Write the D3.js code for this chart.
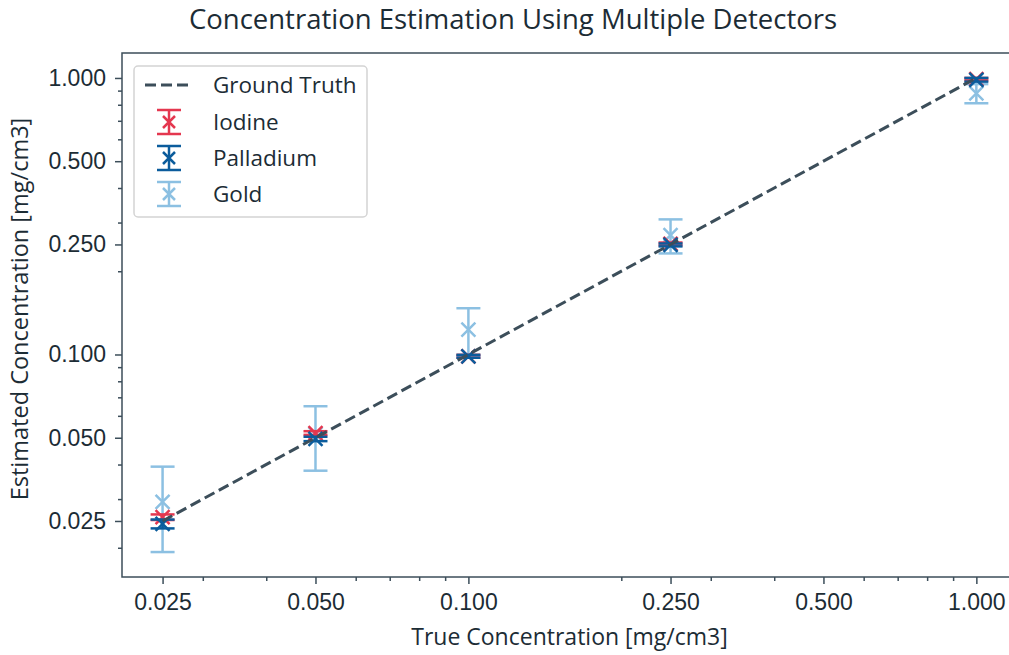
<!DOCTYPE html>
<html>
<head>
<meta charset="utf-8">
<script src="https://cdn.jsdelivr.net/npm/d3@7"></script>
<style>
  html, body { margin: 0; padding: 0; background: #ffffff; }
  svg { display: block; font-family: "Open Sans", "Noto Sans", sans-serif; }
</style>
</head>
<body>
<svg id="chart" width="1009" height="655"></svg>
<script>
// ---------- data ----------
const trueConc = [0.025, 0.05, 0.1, 0.25, 1.0];
const groundTruth = [0.025, 0.05, 0.1, 0.25, 1.0];
const iodine = [0.0258, 0.052, 0.0985, 0.251, 0.99];
const iodineErr = [0.0006, 0.0008, 0.0012, 0.003, 0.01];
const palladium = [0.0244, 0.0495, 0.0985, 0.249, 0.985];
const palladiumErr = [0.0009, 0.0009, 0.0012, 0.003, 0.015];
const gold = [0.0293, 0.0515, 0.123, 0.27, 0.88];
const goldErr = [0.0100, 0.0135, 0.024, 0.038, 0.07];
const majorTicks = [0.025, 0.05, 0.1, 0.25, 0.5, 1.0];
const minorTicksX = [0.03, 0.04, 0.06, 0.07, 0.08, 0.09, 0.2, 0.3, 0.4, 0.6, 0.7, 0.8, 0.9];
const minorTicksY = [0.02, 0.03, 0.04, 0.06, 0.07, 0.08, 0.09, 0.2, 0.3, 0.4, 0.6, 0.7, 0.8, 0.9];
const seriesNames = ["Iodine", "Palladium", "Gold"];
const titleText = "Concentration Estimation Using Multiple Detectors";
const xLabelText = "True Concentration [mg/cm3]";
const yLabelText = "Estimated Concentration [mg/cm3]";

// ---------- layout ----------
const svg = d3.select("#chart");
const plot = {left: 122, right: 1017, top: 53, bottom: 577};
const ink = "#3c4e5a";
const textColor = "#1c2c35";
const colors = {Iodine: "#e4374f", Palladium: "#0b5c9c", Gold: "#8cc0e2"};

const x = d3.scaleLog().domain([0.0208, 1.2023]).range([plot.left, plot.right]);
const y = d3.scaleLog().domain([0.01568, 1.231]).range([plot.bottom, plot.top]);
const fmt = d3.format(".3f");

// clip
svg.append("defs").append("clipPath").attr("id", "clip")
  .append("rect").attr("x", plot.left).attr("y", plot.top)
  .attr("width", plot.right - plot.left).attr("height", plot.bottom - plot.top);

// axes
const xAxis = d3.axisBottom(x).tickValues(majorTicks).tickFormat(fmt).tickSizeOuter(0).tickSize(7).tickPadding(10);
const xAxisMinor = d3.axisBottom(x).tickValues(minorTicksX).tickFormat("").tickSizeOuter(0).tickSize(4);
const yAxis = d3.axisLeft(y).tickValues(majorTicks).tickFormat(fmt).tickSizeOuter(0).tickSize(7).tickPadding(9);
const yAxisMinor = d3.axisLeft(y).tickValues(minorTicksY).tickFormat("").tickSizeOuter(0).tickSize(4);

function styleAxis(g, fs) {
  g.select(".domain").remove();
  g.selectAll(".tick line").attr("stroke", ink).attr("stroke-width", 1.5);
  g.selectAll(".tick text").attr("fill", textColor).style("font-size", fs + "px");
}
svg.append("g").attr("transform", `translate(0,${plot.bottom})`).call(xAxisMinor).call(g => styleAxis(g, 23));
svg.append("g").attr("transform", `translate(0,${plot.bottom})`).call(xAxis).call(g => styleAxis(g, 23));
svg.append("g").attr("transform", `translate(${plot.left},0)`).call(yAxisMinor).call(g => styleAxis(g, 23));
svg.append("g").attr("transform", `translate(${plot.left},0)`).call(yAxis).call(g => styleAxis(g, 23));

// data layer
const layer = svg.append("g").attr("clip-path", "url(#clip)");

function drawX(g, cx, cy, s, color, sw) {
  g.append("path")
    .attr("d", `M${cx - s},${cy - s}L${cx + s},${cy + s}M${cx - s},${cy + s}L${cx + s},${cy - s}`)
    .attr("stroke", color).attr("stroke-width", sw).attr("fill", "none");
}

function drawSeries(values, errs, color) {
  const g = layer.append("g");
  trueConc.forEach((t, i) => {
    const cx = x(t);
    const lo = y(values[i] - errs[i]);
    const hi = y(values[i] + errs[i]);
    g.append("line").attr("x1", cx).attr("x2", cx).attr("y1", lo).attr("y2", hi)
      .attr("stroke", color).attr("stroke-width", 2.5);
    [lo, hi].forEach(cy => {
      g.append("line").attr("x1", cx - 12).attr("x2", cx + 12).attr("y1", cy).attr("y2", cy)
        .attr("stroke", color).attr("stroke-width", 2.5);
    });
    drawX(g, cx, y(values[i]), 7, color, 2.5);
  });
}

drawSeries(gold, goldErr, colors.Gold);
drawSeries(iodine, iodineErr, colors.Iodine);
drawSeries(palladium, palladiumErr, colors.Palladium);

// ground truth
const line = d3.line().x((d, i) => x(trueConc[i])).y(d => y(d));
layer.append("path").datum(groundTruth).attr("d", line)
  .attr("fill", "none").attr("stroke", ink).attr("stroke-width", 3)
  .attr("stroke-dasharray", "11,5");

// spines
svg.append("rect").attr("x", plot.left).attr("y", plot.top)
  .attr("width", plot.right - plot.left).attr("height", plot.bottom - plot.top)
  .attr("fill", "none").attr("stroke", ink).attr("stroke-width", 1.5);

// legend
const lg = svg.append("g");
lg.append("rect").attr("x", 134).attr("y", 66).attr("width", 233).attr("height", 151)
  .attr("rx", 4).attr("fill", "#ffffff").attr("fill-opacity", 0.8)
  .attr("stroke", "#d4d4d4").attr("stroke-width", 1.5);
const rowY = [85, 122, 158, 194];
lg.append("line").attr("x1", 145).attr("x2", 193).attr("y1", rowY[0]).attr("y2", rowY[0])
  .attr("stroke", ink).attr("stroke-width", 3).attr("stroke-dasharray", "11,5");
lg.append("text").attr("x", 213).attr("y", rowY[0]).attr("dy", "0.35em")
  .attr("fill", textColor).style("font-size", "22.5px").text("Ground Truth");
seriesNames.forEach((name, i) => {
  const cy = rowY[i + 1];
  const c = colors[name];
  const g = lg.append("g");
  g.append("line").attr("x1", 169).attr("x2", 169).attr("y1", cy - 12).attr("y2", cy + 12)
    .attr("stroke", c).attr("stroke-width", 2.5);
  [cy - 12, cy + 12].forEach(yy => g.append("line").attr("x1", 157).attr("x2", 181)
    .attr("y1", yy).attr("y2", yy).attr("stroke", c).attr("stroke-width", 2.5));
  drawX(g, 169, cy, 6, c, 2.5);
  lg.append("text").attr("x", 213).attr("y", cy).attr("dy", "0.35em")
    .attr("fill", textColor).style("font-size", "22.5px").text(name);
});

// titles
svg.append("text").attr("x", 513).attr("y", 19).attr("dy", "0.35em").attr("text-anchor", "middle")
  .attr("fill", textColor).style("font-size", "27.5px").text(titleText);
svg.append("text").attr("x", (plot.left + 1017) / 2).attr("y", 637).attr("dy", "0.35em").attr("text-anchor", "middle")
  .attr("fill", textColor).style("font-size", "23px").text(xLabelText);
svg.append("text").attr("transform", `translate(20,309) rotate(-90)`)
  .attr("dy", "0.35em").attr("text-anchor", "middle")
  .attr("fill", textColor).style("font-size", "23.5px").text(yLabelText);
</script>
</body>
</html>
